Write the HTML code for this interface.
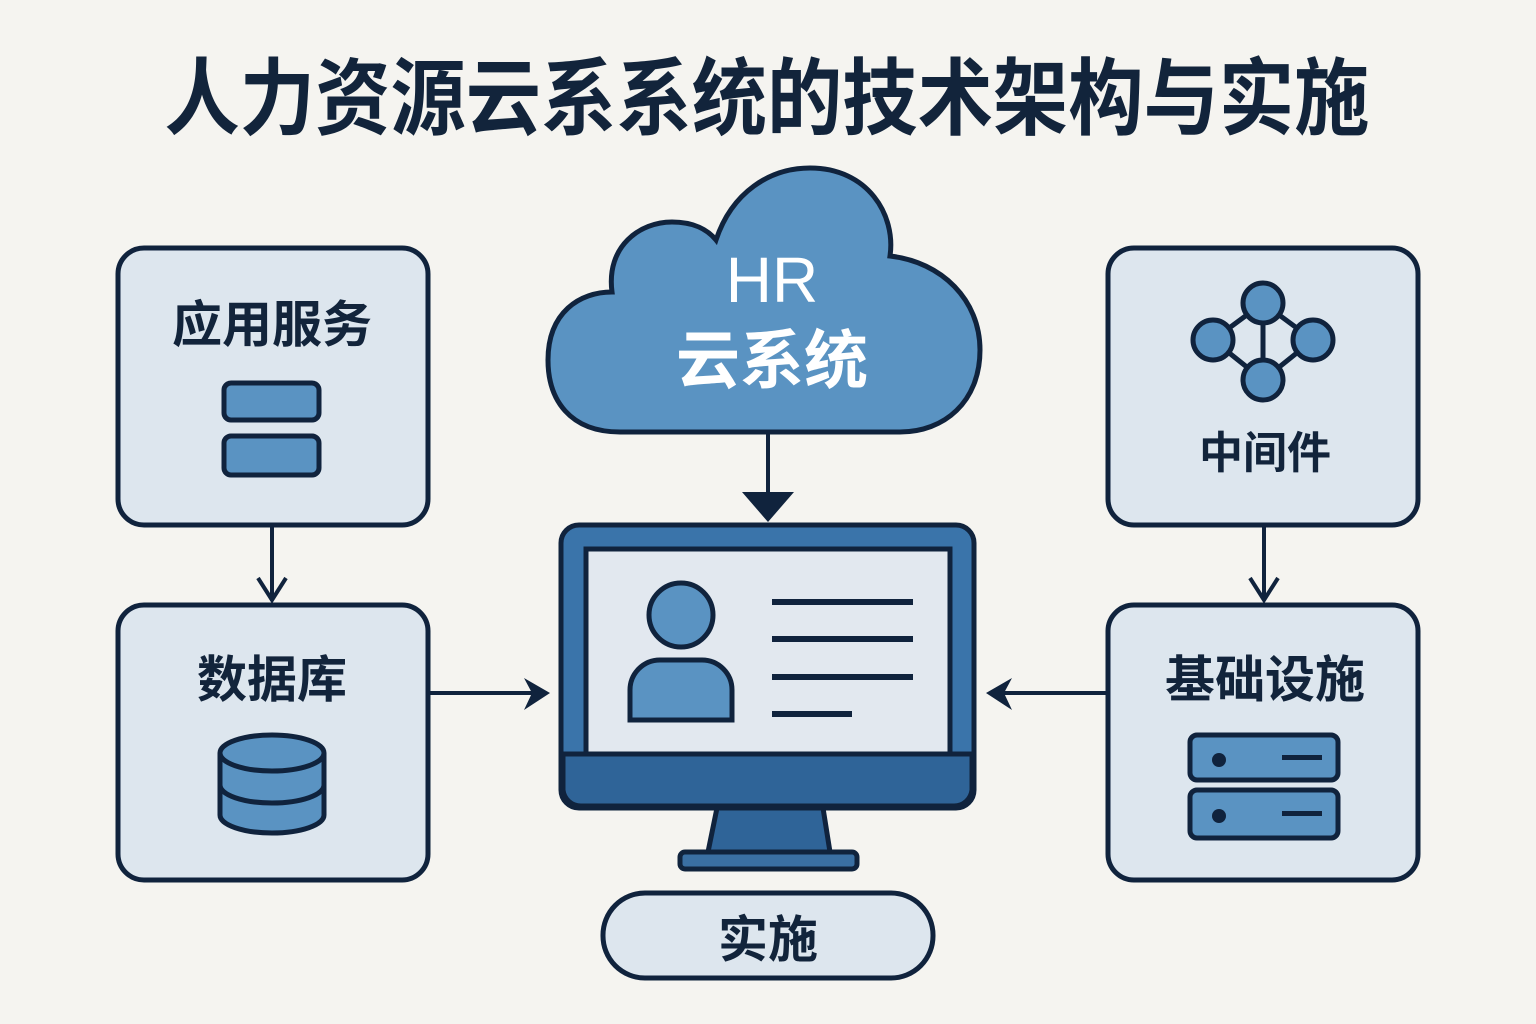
<!DOCTYPE html>
<html><head><meta charset="utf-8"><style>
html,body{margin:0;padding:0;background:#f5f4f0;}
svg{display:block;}
text{font-family:"Liberation Sans","Noto Sans CJK SC",sans-serif;}
</style></head><body>
<svg width="1536" height="1024" viewBox="0 0 1536 1024">
<rect width="1536" height="1024" fill="#f5f4f0"/>
<text x="767" y="128" text-anchor="middle" font-size="84" font-weight="bold" fill="#12243b" textLength="1205" lengthAdjust="spacingAndGlyphs">人力资源云系系统的技术架构与实施</text>

<g stroke="#10233d" stroke-width="5" fill="#dde6ee">
<rect x="118" y="248" width="310" height="277" rx="26"/>
<rect x="118" y="605" width="310" height="275" rx="26"/>
<rect x="1108" y="248" width="310" height="277" rx="26"/>
<rect x="1108" y="605" width="310" height="275" rx="26"/>
<rect x="603" y="893" width="330" height="85" rx="42"/>
</g>

<g font-weight="bold" fill="#12243b" text-anchor="middle">
<text x="272" y="342" font-size="50">应用服务</text>
<text x="272" y="697" font-size="50">数据库</text>
<text x="1265" y="468" font-size="44">中间件</text>
<text x="1265" y="697" font-size="50">基础设施</text>
<text x="768" y="957" font-size="50">实施</text>
</g>

<!-- app service icon -->
<g stroke="#10233d" stroke-width="5" fill="#5a93c2">
<rect x="224" y="383" width="95" height="37" rx="7"/>
<rect x="224" y="436" width="95" height="39" rx="7"/>
<!-- database -->
<path d="M220 753 V815 A52 18 0 0 0 324 815 V753"/>
<path d="M220 785 A52 18 0 0 0 324 785" fill="none"/>
<ellipse cx="272" cy="753" rx="52" ry="18"/>
<!-- middleware -->
<path d="M1263 303 L1213 340 L1263 380 L1313 340 Z M1263 303 V380" fill="none"/>
<circle cx="1263" cy="303" r="20"/>
<circle cx="1213" cy="340" r="20"/>
<circle cx="1313" cy="340" r="20"/>
<circle cx="1263" cy="380" r="20"/>
<!-- server -->
<rect x="1190" y="735" width="148" height="45" rx="7"/>
<rect x="1190" y="790" width="148" height="48" rx="7"/>
</g>
<g fill="#10233d">
<circle cx="1219" cy="760" r="7"/><circle cx="1219" cy="816" r="7"/>
<rect x="1282" y="755" width="40" height="5"/><rect x="1282" y="811" width="40" height="5"/>
</g>

<!-- cloud -->
<path d="M620 432 C570 432 548 400 548 360 C548 312 580 292 612 292 C606 246 640 222 672 222 C694 222 708 230 716 240 C732 192 770 168 810 168 C868 168 896 215 890 256 C942 262 980 300 980 350 C980 402 944 432 900 432 Z" fill="#5a93c2" stroke="#10233d" stroke-width="5"/>
<text x="772" y="302" text-anchor="middle" font-size="64" fill="#fff">HR</text>
<text x="772" y="383" text-anchor="middle" font-size="64" font-weight="bold" fill="#fff">云系统</text>

<!-- arrows -->
<g stroke="#10233d" stroke-width="4" fill="none">
<line x1="768" y1="434" x2="768" y2="500"/>
<line x1="272" y1="527" x2="272" y2="600"/>
<polyline points="258,578 272,600 286,578"/>
<line x1="1264" y1="527" x2="1264" y2="600"/>
<polyline points="1250,578 1264,600 1278,578"/>
<line x1="430" y1="693" x2="540" y2="693"/>
<line x1="1106" y1="693" x2="1000" y2="693"/>
</g>
<g fill="#10233d">
<path d="M742 492 L794 492 L768 522 Z"/>
<path d="M524 678 L550 693 L524 710 L532 693 Z"/>
<path d="M1012 678 L986 693 L1012 710 L1004 693 Z"/>
</g>

<!-- monitor -->
<g stroke="#10233d" stroke-width="5">
<path d="M717 808 L823 808 L830 852 L708 852 Z" fill="#2f6498"/>
<rect x="680" y="852" width="177" height="17" rx="5" fill="#3a6fa3"/>
<rect x="561" y="525" width="413" height="283" rx="18" fill="#3a74aa"/>
<rect x="586" y="549" width="364" height="205" fill="#e2e8ef"/>
<path d="M563 754 H972 V790 A18 18 0 0 1 954 806 H581 A18 18 0 0 1 563 790 Z" fill="#2f6498"/>
<circle cx="681" cy="615" r="32" fill="#5a93c2"/>
<path d="M630 720 V690 A30 30 0 0 1 660 660 H702 A30 30 0 0 1 732 690 V720 Z" fill="#5a93c2"/>
</g>
<g fill="#10233d">
<rect x="772" y="599" width="141" height="6"/>
<rect x="772" y="636" width="141" height="6"/>
<rect x="772" y="674" width="141" height="6"/>
<rect x="772" y="711" width="80" height="6"/>
</g>
</svg>
</body></html>
